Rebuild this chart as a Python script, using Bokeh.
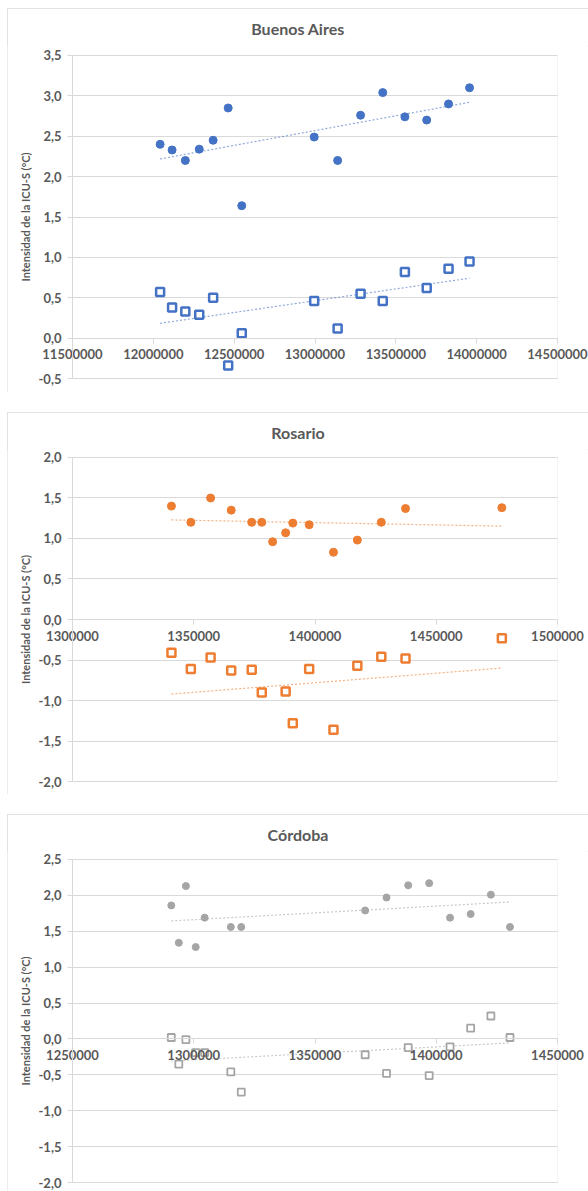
import numpy as np
from bokeh.plotting import figure
from bokeh.layouts import column
from bokeh.models import Range1d, FixedTicker, CustomJSTickFormatter, BasicTickFormatter, BoxAnnotation
from bokeh.embed import file_html
from bokeh.resources import INLINE

# ---------------- data ----------------
ba_x = [12042000, 12116000, 12198000, 12284000, 12370000, 12463000, 12547000, 12995000,
        13140000, 13282000, 13419000, 13556000, 13691000, 13826000, 13956000]
ba_circ = [2.40, 2.33, 2.20, 2.34, 2.45, 2.85, 1.64, 2.49, 2.20, 2.76, 3.04, 2.74, 2.70, 2.90, 3.10]
ba_sq = [0.57, 0.38, 0.33, 0.29, 0.50, -0.34, 0.06, 0.46, 0.12, 0.55, 0.46, 0.82, 0.62, 0.86, 0.95]

ro_x = [1340800, 1348800, 1356950, 1365450, 1373900, 1378060, 1382530, 1387900, 1390850,
        1397600, 1407620, 1417460, 1427340, 1437330, 1477050]
ro_circ = [1.40, 1.20, 1.50, 1.35, 1.20, 1.20, 0.96, 1.07, 1.19, 1.17, 0.83, 0.98, 1.20, 1.37, 1.38]
# the 7th value lies below the axis minimum (-2,0) and is therefore not visible
ro_sq = [-0.41, -0.61, -0.47, -0.63, -0.62, -0.90, -2.45, -0.89, -1.28, -0.61, -1.36, -0.57,
         -0.46, -0.48, -0.23]

co_x = [1290740, 1293840, 1296760, 1300800, 1304500, 1315280, 1319600, 1370690, 1379490,
        1388430, 1397080, 1405690, 1414190, 1422530, 1430400]
co_circ = [1.86, 1.34, 2.13, 1.28, 1.69, 1.56, 1.56, 1.79, 1.97, 2.14, 2.17, 1.69, 1.74, 2.01, 1.56]
co_sq = [0.02, -0.35, -0.01, -0.19, -0.19, -0.46, -0.74, -0.22, -0.48, -0.12, -0.51, -0.11,
         0.15, 0.32, 0.02]

titles = ["Buenos Aires", "Rosario", "Córdoba"]
y_label = "Intensidad de la ICU-S (°C)"

ba_xticks = [11500000, 12000000, 12500000, 13000000, 13500000, 14000000, 14500000]
ba_yticks = [-0.5, 0.0, 0.5, 1.0, 1.5, 2.0, 2.5, 3.0, 3.5]
ro_xticks = [1300000, 1350000, 1400000, 1450000, 1500000]
ro_yticks = [-2.0, -1.5, -1.0, -0.5, 0.0, 0.5, 1.0, 1.5, 2.0]
co_xticks = [1250000, 1300000, 1350000, 1400000, 1450000]
co_yticks = [-2.0, -1.5, -1.0, -0.5, 0.0, 0.5, 1.0, 1.5, 2.0, 2.5]

BLUE, ORANGE, GRAY = "#4472C4", "#ED7D31", "#A5A5A5"
TXT = "#595959"
LINE = "#D9D9D9"
FONT = "Lato"

# layout (pixels, relative to each chart box)
FIG_W = 581
PLOT_L, PLOT_R = 65, 550
FRAME_TOP = 36


def trend(xs, ys):
    x = np.array(xs, dtype=float)
    y = np.array(ys, dtype=float)
    a, b = np.polyfit(x, y, 1)
    x0, x1 = x.min(), x.max()
    return [x0, x1], [a * x0 + b, a * x1 + b]


def panel(title, xs, yc, ys, color, xticks, yticks, fig_h, plot_top, plot_bot, margin,
          csize=8, ssize=8, swidth=2.5):
    # the frame covers the whole chart box below the title; the plot area is a
    # sub-box of it so that the axes (crossing at x = first tick, y = 0) are never clipped
    fx = (xticks[-1] - xticks[0]) / (PLOT_R - PLOT_L)
    fy = (yticks[-1] - yticks[0]) / (plot_bot - plot_top)
    xr = Range1d(xticks[0] - PLOT_L * fx, xticks[-1] + (FIG_W - PLOT_R) * fx)
    yr = Range1d(yticks[0] - (fig_h - plot_bot) * fy, yticks[-1] + (plot_top - FRAME_TOP) * fy)

    p = figure(width=FIG_W, height=fig_h, output_backend="svg", toolbar_location=None,
               x_range=xr, y_range=yr, min_border_left=0, min_border_right=0,
               min_border_top=FRAME_TOP, min_border_bottom=0, title=title)
    p.margin = margin
    p.styles = {"outline": "1px solid #D9D9D9", "outline-offset": "-1px"}
    p.background_fill_color = "white"
    p.border_fill_color = "white"
    p.outline_line_color = None

    t = p.title
    t.text_font = FONT
    t.text_font_size = "16px"
    t.text_font_style = "bold"
    t.text_color = TXT
    t.align = "center"
    t.standoff = 16
    t.offset = 0

    ya = p.yaxis[0]
    ya.fixed_location = xticks[0]
    ya.bounds = (yticks[0], yticks[-1])
    ya.ticker = FixedTicker(ticks=yticks)
    ya.formatter = CustomJSTickFormatter(code="return tick.toFixed(1).replace('.', ',');")
    ya.axis_line_color = LINE
    ya.major_tick_line_color = LINE
    ya.major_tick_out = 5
    ya.major_tick_in = 0
    ya.minor_tick_line_color = None
    ya.major_label_text_font = FONT
    ya.major_label_text_font_size = "13px"
    ya.major_label_text_font_style = "bold"
    ya.major_label_text_color = TXT
    ya.major_label_standoff = 6
    ya.axis_label = y_label
    ya.axis_label_text_font = FONT
    ya.axis_label_text_font_size = "11px"
    ya.axis_label_text_font_style = "bold"
    ya.axis_label_text_color = TXT
    ya.axis_label_standoff = 4

    xa = p.xaxis[0]
    xa.fixed_location = 0
    xa.bounds = (xticks[0], xticks[-1])
    xa.ticker = FixedTicker(ticks=xticks)
    xa.formatter = BasicTickFormatter(use_scientific=False)
    xa.axis_line_color = LINE
    xa.major_tick_line_color = LINE
    xa.major_tick_out = 5
    xa.major_tick_in = 0
    xa.minor_tick_line_color = None
    xa.major_label_text_font = FONT
    xa.major_label_text_font_size = "13px"
    xa.major_label_text_font_style = "bold"
    xa.major_label_text_color = TXT
    xa.major_label_standoff = 6

    p.xgrid.visible = False
    g = p.ygrid[0]
    g.grid_line_color = LINE
    g.grid_line_width = 1
    if "cross_bounds" in g.properties():
        g.cross_bounds = (xticks[0], xticks[-1])
    else:
        g.visible = False
        n = len(yticks)
        p.segment(x0=[xticks[0]] * n, x1=[xticks[-1]] * n, y0=yticks, y1=yticks,
                  line_color=LINE, line_width=1)

    # border of the plot area
    p.add_layout(BoxAnnotation(left=xticks[0], right=xticks[-1], bottom=yticks[0],
                               top=yticks[-1], fill_color=None, line_color=LINE,
                               line_width=1, level="underlay"))

    tx, ty = trend(xs, yc)
    p.line(tx, ty, line_color=color, line_alpha=0.6, line_width=1.2, line_dash="2 2")
    tx, ty = trend(xs, ys)
    p.line(tx, ty, line_color=color, line_alpha=0.6, line_width=1.2, line_dash="2 2")

    p.scatter(xs, yc, marker="circle", size=csize, fill_color=color, line_color=color)
    p.scatter(xs, ys, marker="square", size=ssize, fill_color="white",
              line_color=color, line_width=swidth)
    return p


p1 = panel(titles[0], ba_x, ba_circ, ba_sq, BLUE, ba_xticks, ba_yticks, 384, 46, 370,
           (8, 0, 0, 7))
p2 = panel(titles[1], ro_x, ro_circ, ro_sq, ORANGE, ro_xticks, ro_yticks, 382, 44, 369,
           (20, 0, 0, 7))
p3 = panel(titles[2], co_x, co_circ, co_sq, GRAY, co_xticks, co_yticks, 377, 44, 368,
           (20, 0, 0, 7), csize=7, ssize=7, swidth=1.8)

layout = column(p1, p2, p3)
open("out.html", "w").write(file_html(layout, INLINE))
